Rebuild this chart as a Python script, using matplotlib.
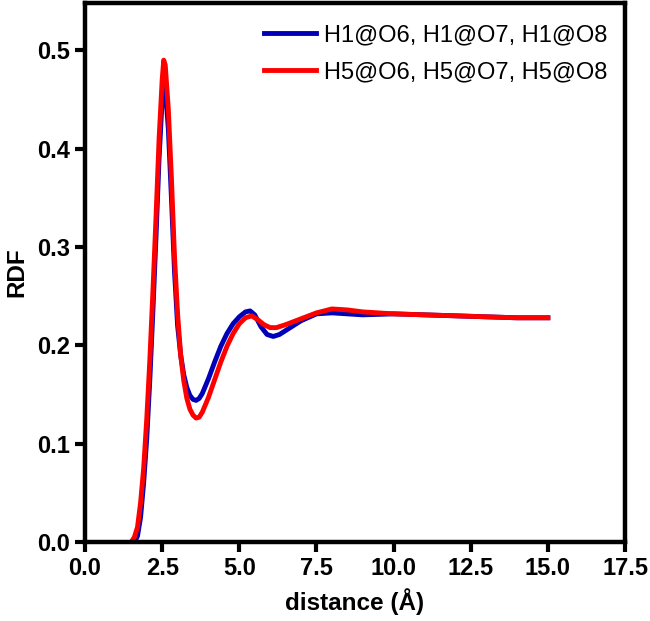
import matplotlib
matplotlib.use("Agg")
import matplotlib.pyplot as plt

plt.rcParams["font.family"] = ["Liberation Sans", "DejaVu Sans"]

# H1@O6, H1@O7, H1@O8
x_h1 = [1.6, 1.7, 1.8, 1.9, 2.0, 2.1, 2.2, 2.3, 2.4, 2.5, 2.55, 2.6, 2.7, 2.8, 2.9,
        3.0, 3.1, 3.2, 3.3, 3.4, 3.5, 3.6, 3.7, 3.8, 4.0, 4.2, 4.4, 4.6, 4.8, 5.0,
        5.2, 5.35, 5.5, 5.7, 5.9, 6.1, 6.3, 6.6, 7.0, 7.5, 8.0, 8.5, 9.0, 10.0,
        11.0, 12.0, 13.0, 14.0, 15.0]
rdf_h1 = [0.0, 0.006, 0.025, 0.06, 0.105, 0.165, 0.235, 0.31, 0.39, 0.45, 0.465,
          0.462, 0.42, 0.35, 0.275, 0.22, 0.19, 0.17, 0.157, 0.149, 0.145, 0.144,
          0.146, 0.151, 0.166, 0.183, 0.199, 0.212, 0.222, 0.229, 0.234, 0.235,
          0.231, 0.219, 0.211, 0.209, 0.211, 0.217, 0.225, 0.232, 0.233, 0.232,
          0.231, 0.232, 0.231, 0.230, 0.229, 0.228, 0.228]

# H5@O6, H5@O7, H5@O8
x_h5 = [1.5, 1.6, 1.7, 1.8, 1.9, 2.0, 2.1, 2.2, 2.3, 2.4, 2.5, 2.55, 2.6, 2.7, 2.8,
        2.9, 3.0, 3.1, 3.2, 3.3, 3.4, 3.5, 3.6, 3.7, 3.8, 4.0, 4.2, 4.4, 4.6, 4.8,
        5.0, 5.2, 5.4, 5.6, 5.8, 6.0, 6.2, 6.5, 7.0, 7.5, 8.0, 8.5, 9.0, 10.0,
        11.0, 12.0, 13.0, 14.0, 15.0]
rdf_h5 = [0.0, 0.005, 0.015, 0.04, 0.075, 0.125, 0.185, 0.255, 0.33, 0.41, 0.47,
          0.49, 0.485, 0.44, 0.37, 0.29, 0.232, 0.19, 0.164, 0.146, 0.135, 0.129,
          0.126, 0.127, 0.132, 0.147, 0.165, 0.183, 0.199, 0.212, 0.222, 0.228,
          0.230, 0.226, 0.221, 0.218, 0.218, 0.221, 0.227, 0.233, 0.237, 0.236,
          0.234, 0.232, 0.231, 0.230, 0.229, 0.228, 0.228]

labels = ["H1@O6, H1@O7, H1@O8", "H5@O6, H5@O7, H5@O8"]
x_ticks = [0.0, 2.5, 5.0, 7.5, 10.0, 12.5, 15.0, 17.5]
y_ticks = [0.0, 0.1, 0.2, 0.3, 0.4, 0.5]

fig = plt.figure(figsize=(6.5, 6.21), dpi=100)
ax = fig.add_axes([0.1308, 0.1272, 0.8308, 0.8678])

ax.plot(x_h1, rdf_h1, color="#0000b8", lw=3.5, label=labels[0])
ax.plot(x_h5, rdf_h5, color="#ff0000", lw=3.5, label=labels[1])

ax.set_xlim(0, 17.5)
ax.set_ylim(0, 0.548)
ax.set_xticks(x_ticks)
ax.set_xticklabels([f"{t:.1f}" for t in x_ticks])
ax.set_yticks(y_ticks)
ax.set_yticklabels([f"{t:.1f}" for t in y_ticks])

for s in ax.spines.values():
    s.set_linewidth(3.2)
ax.tick_params(length=7, width=3, pad=4, labelsize=17, direction="out")
for lab in ax.get_xticklabels() + ax.get_yticklabels():
    lab.set_fontweight("bold")

ax.set_xlabel("distance (Å)", fontsize=17.5, fontweight="bold", labelpad=6)
ax.set_ylabel("RDF", fontsize=17.5, fontweight="bold", labelpad=6)

ax.legend(loc="upper right", frameon=False, fontsize=17, handlelength=2.2,
          handletextpad=0.35, labelspacing=0.65, borderaxespad=0.0,
          bbox_to_anchor=(0.985, 0.978))

fig.savefig("out.png", dpi=100)
